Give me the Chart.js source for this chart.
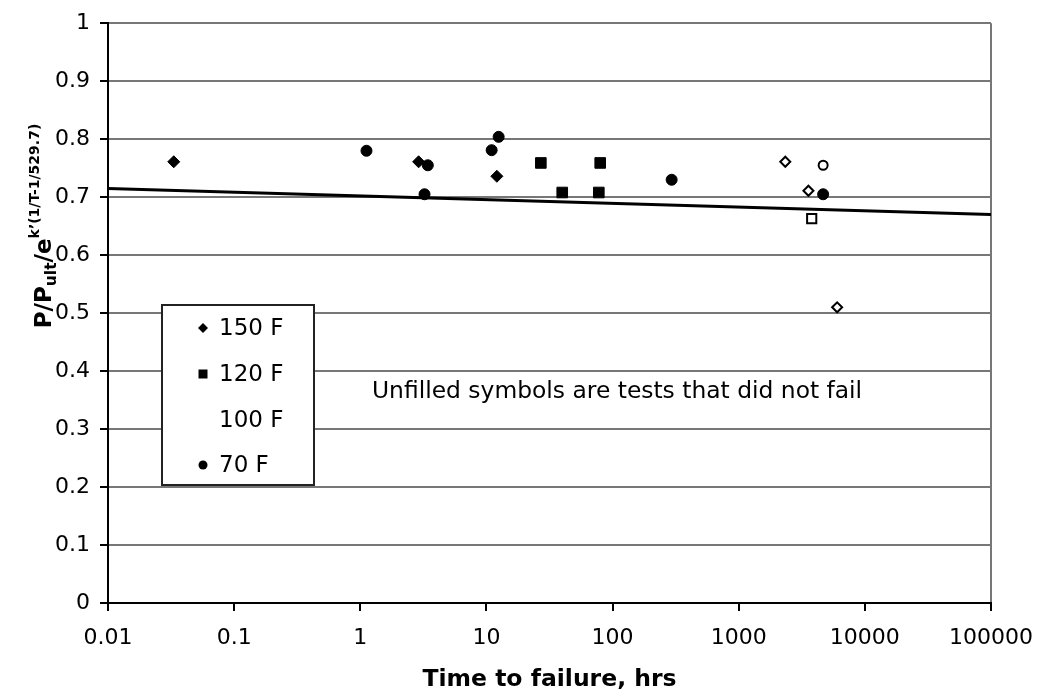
<!DOCTYPE html>
<html>
<head>
<meta charset="utf-8">
<script src="https://cdn.jsdelivr.net/npm/chart.js@4.4.1/dist/chart.umd.min.js"></script>
<style>
  body { margin: 0; background: #fff; }
</style>
</head>
<body>
<canvas id="chart" width="1039" height="697"></canvas>
<script>
// Data
const xTickValues = [0.01, 0.1, 1, 10, 100, 1000, 10000, 100000];
const xTickLabels = ["0.01", "0.1", "1", "10", "100", "1000", "10000", "100000"];
const yTickLabels = ["0", "0.1", "0.2", "0.3", "0.4", "0.5", "0.6", "0.7", "0.8", "0.9", "1"];

// filled = failed tests
const time150 = [0.0332, 2.9, 12.1];
const ratio150 = [0.761, 0.761, 0.736];
const time120 = [27, 39.9, 79.8, 77.8];
const ratio120 = [0.759, 0.708, 0.759, 0.708];
const time70 = [1.12, 3.43, 3.23, 11.0, 12.5, 294, 4670];
const ratio70 = [0.780, 0.755, 0.705, 0.781, 0.804, 0.730, 0.705];

// unfilled = tests that did not fail
const timeOpen150 = [2340, 3570, 6030];
const ratioOpen150 = [0.761, 0.711, 0.510];
const timeOpen120 = [3790];
const ratioOpen120 = [0.663];
const timeOpen70 = [4670];
const ratioOpen70 = [0.755];

// fitted line
const fitTime = [0.01, 100000];
const fitRatio = [0.715, 0.670];

const legendLabels = ["150 F", "120 F", "100 F", "70 F"];
const legendStyles = ["diamond", "square", "none", "circle"];

function pairs(xs, ys) {
  return xs.map((x, i) => ({ x: x, y: ys[i] }));
}

const FONT = "'DejaVu Sans', Verdana, sans-serif";

// y axis title with sub/superscripts
const yTitlePlugin = {
  id: "yTitle",
  afterDraw(chart) {
    const ctx = chart.ctx;
    const parts = [
      { t: "P/P", size: 23, dy: 0 },
      { t: "ult", size: 15.5, dy: 5 },
      { t: "/e", size: 23, dy: 0 },
      { t: "k’(1/T-1/529.7)", size: 14, dy: -12 }
    ];
    ctx.save();
    let total = 0;
    parts.forEach(p => {
      ctx.font = "bold " + p.size + "px " + FONT;
      p.w = ctx.measureText(p.t).width;
      total += p.w;
    });
    ctx.translate(51, 226 + total / 2);
    ctx.rotate(-Math.PI / 2);
    ctx.fillStyle = "#000";
    ctx.textBaseline = "alphabetic";
    ctx.textAlign = "left";
    let x = 0;
    parts.forEach(p => {
      ctx.font = "bold " + p.size + "px " + FONT;
      ctx.fillText(p.t, x, p.dy);
      x += p.w;
    });
    ctx.restore();
  }
};

// boxed legend and note inside the plot
const boxPlugin = {
  id: "boxLegend",
  afterDatasetsDraw(chart) {
    const ctx = chart.ctx;
    ctx.save();
    ctx.fillStyle = "#fff";
    ctx.fillRect(162, 305, 152, 180);
    ctx.strokeStyle = "#222";
    ctx.lineWidth = 2;
    ctx.strokeRect(162, 305, 152, 180);

    const rows = [328, 374, 420, 465];
    ctx.font = "23px " + FONT;
    ctx.textBaseline = "middle";
    ctx.textAlign = "left";
    legendLabels.forEach((lab, i) => {
      const y = rows[i];
      const mx = 203;
      ctx.fillStyle = "#000";
      ctx.beginPath();
      if (legendStyles[i] === "diamond") {
        ctx.moveTo(mx, y - 5); ctx.lineTo(mx + 5, y); ctx.lineTo(mx, y + 5); ctx.lineTo(mx - 5, y);
        ctx.closePath(); ctx.fill();
      } else if (legendStyles[i] === "square") {
        ctx.rect(mx - 4.5, y - 4.5, 9, 9); ctx.fill();
      } else if (legendStyles[i] === "circle") {
        ctx.arc(mx, y, 4.5, 0, Math.PI * 2); ctx.fill();
      }
      ctx.fillText(lab, 219, y + 1);
    });

    ctx.font = "23.4px " + FONT;
    ctx.fillText("Unfilled symbols are tests that did not fail", 372, 392);
    ctx.restore();
  }
};

const ctx = document.getElementById("chart").getContext("2d");

const chart = new Chart(ctx, {
  type: "scatter",
  data: {
    datasets: [
      { label: "150 F", data: pairs(time150, ratio150), pointStyle: "rectRot", pointRadius: 6,
        backgroundColor: "#000", borderColor: "#000", borderWidth: 1 },
      { label: "120 F", data: pairs(time120, ratio120), pointStyle: "rect", pointRadius: 7.5,
        backgroundColor: "#000", borderColor: "#000", borderWidth: 1 },
      { label: "70 F", data: pairs(time70, ratio70), pointStyle: "circle", pointRadius: 5.5,
        backgroundColor: "#000", borderColor: "#000", borderWidth: 1 },
      { label: "150 F (no failure)", data: pairs(timeOpen150, ratioOpen150), pointStyle: "rectRot", pointRadius: 5,
        backgroundColor: "#fff", borderColor: "#000", borderWidth: 2 },
      { label: "120 F (no failure)", data: pairs(timeOpen120, ratioOpen120), pointStyle: "rect", pointRadius: 6.5,
        backgroundColor: "#fff", borderColor: "#000", borderWidth: 2 },
      { label: "70 F (no failure)", data: pairs(timeOpen70, ratioOpen70), pointStyle: "circle", pointRadius: 4.5,
        backgroundColor: "#fff", borderColor: "#000", borderWidth: 2 },
      { label: "fit", type: "line", data: pairs(fitTime, fitRatio), showLine: true, pointRadius: 0,
        borderColor: "#000", borderWidth: 3, order: 10 }
    ]
  },
  options: {
    responsive: false,
    animation: false,
    events: [],
    layout: { padding: { top: 18, right: 48, left: 0, bottom: 0 } },
    plugins: {
      legend: { display: false },
      tooltip: { enabled: false }
    },
    scales: {
      x: {
        type: "logarithmic",
        position: "bottom",
        min: 0.01,
        max: 100000,
        afterBuildTicks: scale => { scale.ticks = xTickValues.map(v => ({ value: v })); },
        afterFit: scale => {
          scale.height = 94;
          // labels may overhang, the layout padding already leaves room
          scale.paddingLeft = 0;
          scale.paddingRight = 0;
        },
        ticks: {
          autoSkip: false,
          maxRotation: 0,
          color: "#000",
          font: { family: FONT, size: 22 },
          padding: 14,
          callback: (v, i) => xTickLabels[i]
        },
        grid: {
          color: c => (c.tick && c.tick.value === 100000 ? "#777" : "rgba(0,0,0,0)"),
          lineWidth: 2,
          tickLength: 8,
          tickColor: "#000",
          tickWidth: 2
        },
        border: { color: "#000", width: 2 },
        title: {
          display: true,
          text: "Time to failure, hrs",
          color: "#000",
          font: { family: FONT, size: 23.5, weight: "bold" },
          padding: { top: 6, bottom: 3 }
        }
      },
      y: {
        min: 0,
        max: 1,
        afterFit: scale => { scale.width = 108; },
        ticks: {
          stepSize: 0.1,
          color: "#000",
          font: { family: FONT, size: 22 },
          padding: 10,
          callback: (v, i) => yTickLabels[i]
        },
        grid: {
          color: "#777",
          lineWidth: 2,
          tickLength: 8,
          tickColor: "#000",
          tickWidth: 2
        },
        border: { color: "#000", width: 2 }
      }
    }
  },
  plugins: [yTitlePlugin, boxPlugin]
});
</script>
</body>
</html>
